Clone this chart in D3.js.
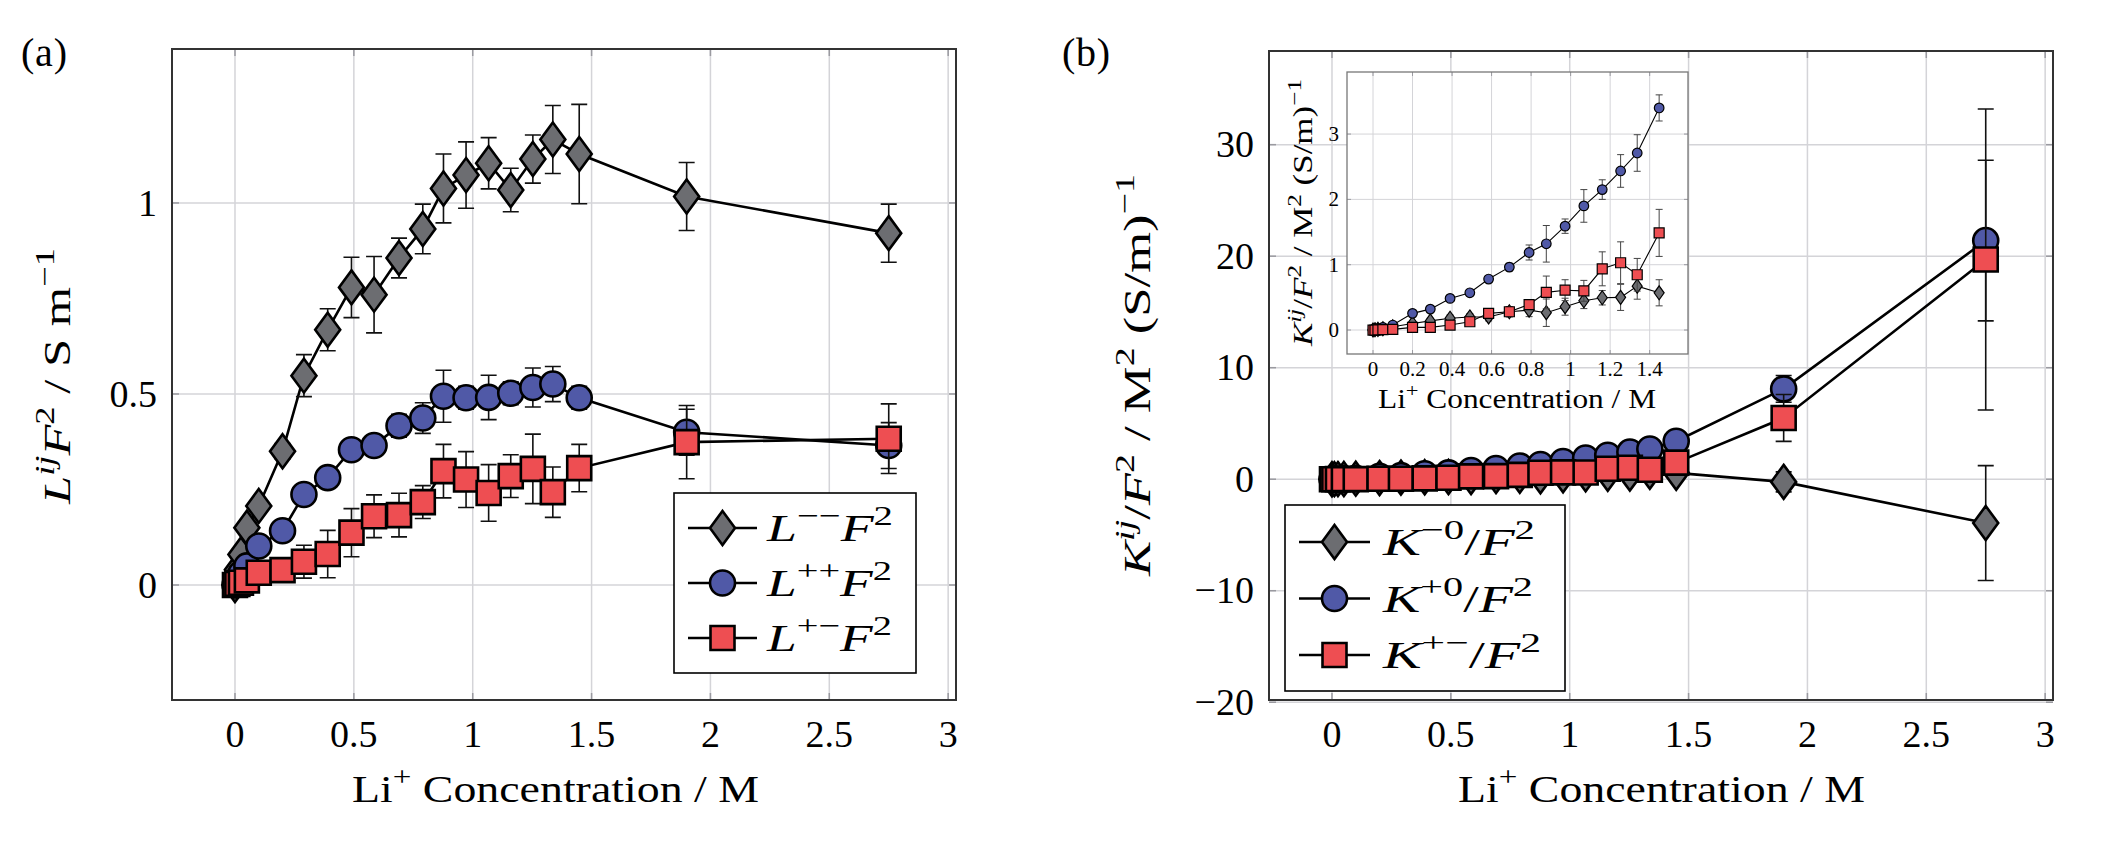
<!DOCTYPE html>
<html>
<head>
<meta charset="utf-8">
<script src="https://cdn.jsdelivr.net/npm/d3@7"></script>
<style>
  body { margin: 0; background: #fff; }
  text { font-family: "Liberation Serif", "DejaVu Serif", serif; fill: #000; }
</style>
</head>
<body>
<div id="chart"></div>
<script>
// Li+ concentration (M), shared by every series
var conc = [0, 0.01, 0.025, 0.05, 0.1, 0.2, 0.29, 0.39, 0.49, 0.585, 0.69, 0.79, 0.877, 0.972, 1.067, 1.16, 1.253, 1.337, 1.448, 1.9, 2.75];

// (a) L^ij F^2 / S m^-1
var Lmm    = [0, 0.04, 0.08, 0.15, 0.207, 0.350, 0.548, 0.668, 0.779, 0.760, 0.856, 0.932, 1.038, 1.073, 1.104, 1.034, 1.115, 1.166, 1.128, 1.017, 0.921];
var LmmErr = [0, 0.005, 0.01, 0.012, 0.015, 0.02, 0.055, 0.055, 0.079, 0.10, 0.052, 0.065, 0.09, 0.087, 0.067, 0.057, 0.063, 0.089, 0.13, 0.089, 0.076];
var Lpp    = [0, 0.015, 0.03, 0.05, 0.102, 0.142, 0.237, 0.281, 0.354, 0.365, 0.417, 0.437, 0.494, 0.490, 0.491, 0.502, 0.517, 0.526, 0.490, 0.40, 0.365];
var LppErr = [0, 0.005, 0.005, 0.01, 0.01, 0.015, 0.02, 0.02, 0.02, 0.02, 0.03, 0.04, 0.068, 0.03, 0.058, 0.03, 0.051, 0.046, 0.03, 0.06, 0.06];
var Lpm    = [0, 0.003, 0.006, 0.012, 0.032, 0.039, 0.061, 0.081, 0.137, 0.180, 0.183, 0.217, 0.298, 0.276, 0.241, 0.285, 0.304, 0.243, 0.306, 0.374, 0.383];
var LpmErr = [0, 0.003, 0.005, 0.008, 0.01, 0.012, 0.043, 0.062, 0.063, 0.056, 0.057, 0.043, 0.07, 0.073, 0.074, 0.056, 0.091, 0.066, 0.062, 0.096, 0.091];

// (b) K^ij / F^2 / M^2 (S/m)^-1
var Km0    = [0, 0.005, 0.01, 0.02, 0.05, 0.1, 0.14, 0.18, 0.2, 0.2, 0.28, 0.305, 0.265, 0.357, 0.448, 0.494, 0.50, 0.672, 0.57, -0.24, -3.93];
var Km0Err = [0, 0, 0, 0.01, 0.02, 0.03, 0.04, 0.05, 0.05, 0.06, 0.08, 0.1, 0.21, 0.13, 0.12, 0.11, 0.2, 0.2, 0.2, 0.9, 5.15];
var Kp0    = [0, 0.005, 0.02, 0.04, 0.076, 0.255, 0.32, 0.484, 0.57, 0.78, 0.963, 1.187, 1.32, 1.59, 1.90, 2.15, 2.435, 2.71, 3.40, 8.1, 21.4];
var Kp0Err = [0, 0, 0.01, 0.01, 0.02, 0.03, 0.04, 0.04, 0.05, 0.05, 0.06, 0.115, 0.28, 0.11, 0.25, 0.15, 0.25, 0.28, 0.2, 1.2, 7.2];
var Kpm    = [0, 0, 0.003, 0.005, 0.01, 0.04, 0.04, 0.076, 0.127, 0.255, 0.28, 0.39, 0.576, 0.61, 0.60, 0.937, 1.03, 0.846, 1.487, 5.49, 19.7];
var KpmErr = [0, 0, 0, 0.005, 0.01, 0.02, 0.03, 0.03, 0.04, 0.05, 0.06, 0.05, 0.25, 0.16, 0.16, 0.26, 0.32, 0.25, 0.36, 2.1, 13.5];

// tick values
var xTicks = [0, 0.5, 1, 1.5, 2, 2.5, 3];
var yTicksA = [0, 0.5, 1];
var yTicksB = [-20, -10, 0, 10, 20, 30];
var xTicksInset = [0, 0.2, 0.4, 0.6, 0.8, 1, 1.2, 1.4];
var yTicksInset = [0, 1, 2, 3];

var fills = { diamond: "#6c6d71", circle: "#5059a7", square: "#ee4e52" };

var svg = d3.select("#chart").append("svg")
    .attr("width", 2101)
    .attr("height", 846);

function fmt(v) { return String(v).replace("-", "\u2212"); }

// text with italic / superscript pieces, parts = [[string, "i"|"s"|"si"|""]]
// len stretches the whole string to the width the TeX font takes
function richText(sel, parts, size, len) {
    var shift = 0;
    parts.forEach(function(p) {
        var sup = p[1].indexOf("s") >= 0;
        var target = sup ? -0.42 * size : 0;
        sel.append("tspan")
            .text(p[0])
            .attr("font-size", sup ? size * 0.72 : size)
            .attr("font-style", p[1].indexOf("i") >= 0 ? "italic" : "normal")
            .attr("dy", target - shift);
        shift = target;
    });
    if (len) sel.attr("textLength", len).attr("lengthAdjust", "spacingAndGlyphs");
    return sel;
}

function marker(g, type, cx, cy, s, sw) {
    var p;
    if (type == "circle") {
        return g.append("circle").attr("cx", cx).attr("cy", cy).attr("r", s.r)
            .attr("fill", fills.circle).attr("stroke", "#000").attr("stroke-width", sw);
    }
    if (type == "square") {
        p = "M" + (cx - s.q) + "," + (cy - s.q) + "h" + (2 * s.q) + "v" + (2 * s.q) + "h" + (-2 * s.q) + "Z";
    } else {
        p = "M" + cx + "," + (cy - s.dh) + "L" + (cx + s.dw) + "," + cy + "L" + cx + "," + (cy + s.dh) + "L" + (cx - s.dw) + "," + cy + "Z";
    }
    return g.append("path").attr("d", p).attr("fill", fills[type])
        .attr("stroke", "#000").attr("stroke-width", sw).attr("stroke-linejoin", "miter");
}

function drawAxes(g, x, y, xt, yt, opt) {
    var r = x.range(), b = y.range();
    g.append("rect").attr("x", r[0]).attr("y", b[1]).attr("width", r[1] - r[0]).attr("height", b[0] - b[1])
        .attr("fill", "#fff");
    // grid
    g.selectAll(".gx").data(xt).enter().append("line")
        .attr("x1", d => x(d)).attr("x2", d => x(d)).attr("y1", b[0]).attr("y2", b[1])
        .attr("stroke", "#d4d4d8").attr("stroke-width", opt.grid);
    g.selectAll(".gy").data(yt).enter().append("line")
        .attr("y1", d => y(d)).attr("y2", d => y(d)).attr("x1", r[0]).attr("x2", r[1])
        .attr("stroke", "#d4d4d8").attr("stroke-width", opt.grid);
    // ticks on all four sides
    xt.forEach(function(d) {
        g.append("line").attr("x1", x(d)).attr("x2", x(d)).attr("y1", b[0]).attr("y2", b[0] - opt.tick)
            .attr("stroke", "#9a9aa0").attr("stroke-width", opt.grid);
        g.append("line").attr("x1", x(d)).attr("x2", x(d)).attr("y1", b[1]).attr("y2", b[1] + opt.tick)
            .attr("stroke", "#9a9aa0").attr("stroke-width", opt.grid);
    });
    yt.forEach(function(d) {
        g.append("line").attr("y1", y(d)).attr("y2", y(d)).attr("x1", r[0]).attr("x2", r[0] + opt.tick)
            .attr("stroke", "#9a9aa0").attr("stroke-width", opt.grid);
        g.append("line").attr("y1", y(d)).attr("y2", y(d)).attr("x1", r[1]).attr("x2", r[1] - opt.tick)
            .attr("stroke", "#9a9aa0").attr("stroke-width", opt.grid);
    });
    // tick labels
    g.selectAll(".tx").data(xt).enter().append("text")
        .attr("x", d => x(d)).attr("y", b[0] + opt.xlOff)
        .attr("text-anchor", "middle").attr("font-size", opt.font)
        .text(d => fmt(d));
    g.selectAll(".ty").data(yt).enter().append("text")
        .attr("x", r[0] - opt.ylOff).attr("y", d => y(d) + opt.font * 0.33)
        .attr("text-anchor", "end").attr("font-size", opt.font)
        .text(d => fmt(d));
}

function frame(g, x, y, colour, w) {
    var r = x.range(), b = y.range();
    g.append("rect").attr("x", r[0]).attr("y", b[1]).attr("width", r[1] - r[0]).attr("height", b[0] - b[1])
        .attr("fill", "none").attr("stroke", colour).attr("stroke-width", w);
}

function drawSeries(g, x, y, xs, ys, errs, type, st) {
    var pts = xs.map((d, i) => ({ x: d, y: ys[i], e: errs[i] })).filter(d => d.x <= x.domain()[1]);
    var line = d3.line().x(d => x(d.x)).y(d => y(d.y));
    g.append("path").attr("d", line(pts)).attr("fill", "none")
        .attr("stroke", "#000").attr("stroke-width", st.lw);
    pts.forEach(function(d) {
        if (!d.e) return;
        var cx = x(d.x), t = y(d.y + d.e), bt = y(d.y - d.e);
        g.append("path")
            .attr("d", "M" + cx + "," + t + "V" + bt + "M" + (cx - st.cap) + "," + t + "h" + (2 * st.cap) +
                       "M" + (cx - st.cap) + "," + bt + "h" + (2 * st.cap))
            .attr("fill", "none").attr("stroke", st.ec).attr("stroke-width", st.ew);
    });
    pts.forEach(function(d) { marker(g, type, x(d.x), y(d.y), st.m, st.sw); });
}

function legend(g, box, items, st) {
    g.append("rect").attr("x", box.x).attr("y", box.y).attr("width", box.w).attr("height", box.h)
        .attr("fill", "#fff").attr("stroke", "#000").attr("stroke-width", 1.6);
    items.forEach(function(it, i) {
        var cy = box.y + box.first + i * box.step;
        g.append("line").attr("x1", box.x + box.l0).attr("x2", box.x + box.l1).attr("y1", cy).attr("y2", cy)
            .attr("stroke", "#000").attr("stroke-width", st.lw);
        marker(g, it.type, box.x + (box.l0 + box.l1) / 2, cy, st.m, st.sw);
        var t = g.append("text").attr("x", box.x + box.tx).attr("y", cy + 13);
        richText(t, it.label, 38, it.len);
    });
}

var bigStyle = { lw: 2.6, sw: 2.6, ew: 1.6, ec: "#111", cap: 8, m: { r: 12.5, q: 12, dw: 12.5, dh: 17 } };
var smallStyle = { lw: 1.1, sw: 1.2, ew: 1, ec: "#444", cap: 3.5, m: { r: 4.8, q: 5, dw: 5, dh: 7 } };
var xLabelParts = [["Li", ""], ["+", "s"], [" Concentration / M", ""]];
var kLabel = [["K", "i"], ["ij", "si"], ["/", ""], ["F", "i"], ["2", "s"], [" / M", ""], ["2", "s"], [" (S/m)", ""], ["\u22121", "s"]];

// ---------- panel (a) ----------
var ga = svg.append("g");
var xa = d3.scaleLinear().domain([-0.265, 3.033]).range([172, 956]);
var ya = d3.scaleLinear().domain([-0.301, 1.403]).range([700, 49]);
drawAxes(ga, xa, ya, xTicks, yTicksA, { grid: 1.5, tick: 7, font: 38, xlOff: 47, ylOff: 15 });
drawSeries(ga, xa, ya, conc, Lmm, LmmErr, "diamond", bigStyle);
drawSeries(ga, xa, ya, conc, Lpp, LppErr, "circle", bigStyle);
drawSeries(ga, xa, ya, conc, Lpm, LpmErr, "square", bigStyle);
frame(ga, xa, ya, "#333", 2);
legend(ga, { x: 674, y: 493, w: 242, h: 180, first: 35, step: 55, l0: 14, l1: 83, tx: 93 }, [
    { type: "diamond", len: 126, label: [["L", "i"], ["\u2212\u2212", "s"], ["F", "i"], ["2", "s"]] },
    { type: "circle",  len: 125, label: [["L", "i"], ["++", "s"], ["F", "i"], ["2", "s"]] },
    { type: "square",  len: 125, label: [["L", "i"], ["+\u2212", "s"], ["F", "i"], ["2", "s"]] }
], bigStyle);
richText(ga.append("text").attr("x", 352).attr("y", 802), xLabelParts, 38, 407);
richText(ga.append("text").attr("transform", "translate(70,504) rotate(-90)"),
    [["L", "i"], ["ij", "si"], ["F", "i"], ["2", "s"], [" / S m", ""], ["\u22121", "s"]], 38, 256);
ga.append("text").attr("x", 21).attr("y", 66).attr("font-size", 40).attr("textLength", 46).text("(a)");

// ---------- panel (b) ----------
var gb = svg.append("g");
var xb = d3.scaleLinear().domain([-0.265, 3.033]).range([1269, 2053]);
var yb = d3.scaleLinear().domain([-19.8, 38.4]).range([700, 51]);
drawAxes(gb, xb, yb, xTicks, yTicksB, { grid: 1.5, tick: 7, font: 38, xlOff: 47, ylOff: 15 });
drawSeries(gb, xb, yb, conc, Km0, Km0Err, "diamond", bigStyle);
drawSeries(gb, xb, yb, conc, Kp0, Kp0Err, "circle", bigStyle);
drawSeries(gb, xb, yb, conc, Kpm, KpmErr, "square", bigStyle);
frame(gb, xb, yb, "#333", 2);
legend(gb, { x: 1285, y: 505, w: 280, h: 186, first: 37, step: 56.5, l0: 14, l1: 85, tx: 98 }, [
    { type: "diamond", len: 152, label: [["K", "i"], ["\u22120", "s"], ["/", ""], ["F", "i"], ["2", "s"]] },
    { type: "circle",  len: 150, label: [["K", "i"], ["+0", "s"], ["/", ""], ["F", "i"], ["2", "s"]] },
    { type: "square",  len: 158, label: [["K", "i"], ["+\u2212", "s"], ["/", ""], ["F", "i"], ["2", "s"]] }
], bigStyle);
richText(gb.append("text").attr("x", 1458).attr("y", 802), xLabelParts, 38, 407);
richText(gb.append("text").attr("transform", "translate(1150,576) rotate(-90)"), kLabel, 38, 402);
gb.append("text").attr("x", 1062).attr("y", 66).attr("font-size", 40).attr("textLength", 48).text("(b)");

// ---------- inset ----------
var gi = svg.append("g");
var xi = d3.scaleLinear().domain([-0.1316, 1.594]).range([1347, 1688]);
var yi = d3.scaleLinear().domain([-0.367, 3.95]).range([354, 72]);
drawAxes(gi, xi, yi, xTicksInset, yTicksInset, { grid: 1, tick: 4, font: 21, xlOff: 22, ylOff: 8 });
drawSeries(gi, xi, yi, conc, Km0, Km0Err, "diamond", smallStyle);
drawSeries(gi, xi, yi, conc, Kp0, Kp0Err, "circle", smallStyle);
drawSeries(gi, xi, yi, conc, Kpm, KpmErr, "square", smallStyle);
frame(gi, xi, yi, "#777", 1.3);
richText(gi.append("text").attr("x", 1378).attr("y", 408), xLabelParts, 27, 278);
richText(gi.append("text").attr("transform", "translate(1312,346) rotate(-90)"), kLabel, 27, 267);
</script>
</body>
</html>
